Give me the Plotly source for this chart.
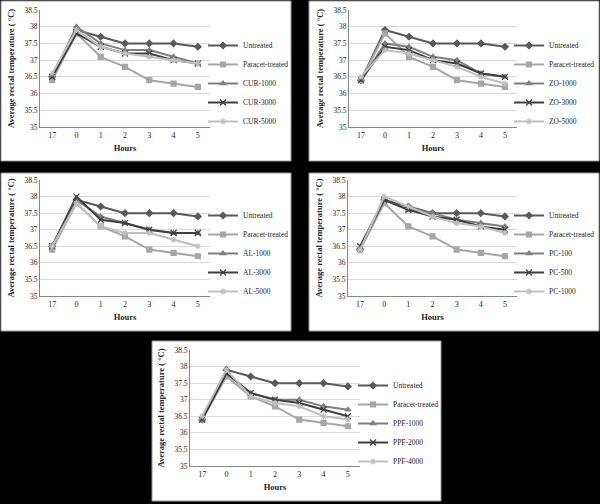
import plotly.graph_objects as go

W, H = 600, 504
hours = ["17", "0", "1", "2", "3", "4", "5"]

untreated_cur = [36.5, 37.9, 37.7, 37.5, 37.5, 37.5, 37.4]
paracet_cur = [36.4, 37.8, 37.1, 36.8, 36.4, 36.3, 36.2]
cur_1000 = [36.5, 38.0, 37.5, 37.3, 37.3, 37.1, 36.9]
cur_3000 = [36.5, 37.8, 37.4, 37.2, 37.2, 37.0, 36.9]
cur_5000 = [36.6, 37.9, 37.4, 37.2, 37.1, 37.0, 36.9]

untreated_zo = [36.4, 37.9, 37.7, 37.5, 37.5, 37.5, 37.4]
paracet_zo = [36.4, 37.8, 37.1, 36.8, 36.4, 36.3, 36.2]
zo_1000 = [36.4, 37.5, 37.4, 37.1, 37.0, 36.6, 36.5]
zo_3000 = [36.4, 37.4, 37.3, 37.0, 36.9, 36.6, 36.5]
zo_5000 = [36.5, 37.3, 37.2, 37.0, 36.8, 36.5, 36.3]

untreated_al = [36.5, 37.9, 37.7, 37.5, 37.5, 37.5, 37.4]
paracet_al = [36.4, 37.8, 37.1, 36.8, 36.4, 36.3, 36.2]
al_1000 = [36.5, 37.9, 37.4, 37.2, 37.0, 36.9, 36.9]
al_3000 = [36.5, 38.0, 37.3, 37.2, 37.0, 36.9, 36.9]
al_5000 = [36.5, 37.8, 37.1, 36.9, 36.9, 36.7, 36.5]

untreated_pc = [36.4, 37.9, 37.7, 37.5, 37.5, 37.5, 37.4]
paracet_pc = [36.4, 37.8, 37.1, 36.8, 36.4, 36.3, 36.2]
pc_100 = [36.4, 37.9, 37.6, 37.5, 37.3, 37.2, 37.1]
pc_500 = [36.5, 37.9, 37.6, 37.4, 37.3, 37.1, 37.0]
pc_1000 = [36.4, 38.0, 37.7, 37.4, 37.2, 37.1, 36.9]

untreated_ppf = [36.4, 37.9, 37.7, 37.5, 37.5, 37.5, 37.4]
paracet_ppf = [36.4, 37.7, 37.1, 36.8, 36.4, 36.3, 36.2]
ppf_1000 = [36.4, 37.8, 37.2, 37.0, 37.0, 36.8, 36.7]
ppf_2000 = [36.4, 37.8, 37.2, 37.0, 36.9, 36.7, 36.5]
ppf_4000 = [36.5, 37.9, 37.1, 36.9, 36.8, 36.5, 36.4]

panels = [
    (["Untreated", "Paracet-treated", "CUR-1000", "CUR-3000", "CUR-5000"],
     [untreated_cur, paracet_cur, cur_1000, cur_3000, cur_5000]),
    (["Untreated", "Paracet-treated", "ZO-1000", "ZO-3000", "ZO-5000"],
     [untreated_zo, paracet_zo, zo_1000, zo_3000, zo_5000]),
    (["Untreated", "Paracet-treated", "AL-1000", "AL-3000", "AL-5000"],
     [untreated_al, paracet_al, al_1000, al_3000, al_5000]),
    (["Untreated", "Paracet-treated", "PC-100", "PC-500", "PC-1000"],
     [untreated_pc, paracet_pc, pc_100, pc_500, pc_1000]),
    (["Untreated", "Paracet-treated", "PPF-1000", "PPF-2000", "PPF-4000"],
     [untreated_ppf, paracet_ppf, ppf_1000, ppf_2000, ppf_4000]),
]

colors = ["#595959", "#a6a6a6", "#7f7f7f", "#3f3f3f", "#bfbfbf"]
symbols = ["diamond", "square", "triangle-up", "x-thin", "asterisk"]

# layout geometry in pixels: (panel box x0,y0,x1,y1), (plot x0,y0,x1,y1), legend x,y
geo = [
    ((0, 0, 292, 162), (40, 10, 210, 127), (203, 31)),
    ((308, 0, 600, 162), (349, 10, 517, 127), (509, 31)),
    ((0, 172, 292, 332), (40, 180, 210, 296), (203, 201)),
    ((308, 172, 600, 332), (348, 180, 517, 296), (509, 201)),
    ((151, 340, 442, 502), (190, 350, 360, 466), (353, 371)),
]

FONT = "Liberation Serif"
TXT = "#262626"
fig = go.Figure()
layout = dict(
    width=W, height=H, margin=dict(l=0, r=0, t=0, b=0),
    paper_bgcolor="black", plot_bgcolor="white",
    font=dict(family=FONT, size=8, color=TXT),
    shapes=[],
)

for i, ((names, series), (box, plot, leg)) in enumerate(zip(panels, geo)):
    n = i + 1
    xa = "x" if n == 1 else f"x{n}"
    ya = "y" if n == 1 else f"y{n}"
    lg = "legend" if n == 1 else f"legend{n}"
    for j, (name, vals) in enumerate(zip(names, series)):
        fig.add_trace(go.Scatter(
            x=hours, y=vals, name=name, mode="lines+markers",
            line=dict(color=colors[j], width=2),
            marker=dict(symbol=symbols[j], size=5 if j != 3 else 6, color=colors[j],
                        line=dict(color=colors[j], width=1.2)),
            xaxis=xa, yaxis=ya, legend=lg,
        ))
    bx0, by0, bx1, by1 = box
    layout["shapes"].append(dict(
        type="rect", xref="paper", yref="paper", layer="below",
        x0=(bx0 + 1) / W, x1=(bx1 - 1) / W, y0=1 - (by1 - 1) / H, y1=1 - (by0 + 1) / H,
        fillcolor="white", line=dict(color="#9a9a9a", width=1),
    ))
    px0, py0, px1, py1 = plot
    layout[("xaxis" if n == 1 else f"xaxis{n}")] = dict(
        domain=[px0 / W, px1 / W], anchor=ya, type="category",
        range=[-0.5, 6.5], showgrid=False, showline=True, linecolor="#868686",
        ticks="", tickfont=dict(size=8, family=FONT, color=TXT), zeroline=False,
        title=dict(text="<b>Hours</b>", font=dict(size=8.5, family=FONT, color=TXT), standoff=6),
        automargin=False,
    )
    layout[("yaxis" if n == 1 else f"yaxis{n}")] = dict(
        domain=[1 - py1 / H, 1 - py0 / H], anchor=xa,
        range=[35, 38.5], dtick=0.5, tick0=35, showgrid=True, gridcolor="#d9d9d9",
        showline=True, linecolor="#868686", zeroline=False, ticks="",
        tickfont=dict(size=7.5, family=FONT, color=TXT),
        title=dict(text="<b>Average rectal temperature ( °C)</b>",
                   font=dict(size=8.5, family=FONT, color=TXT), standoff=8),
        automargin=False,
    )
    lx, ly = leg
    layout[lg] = dict(
        x=lx / W, y=1 - ly / H, xanchor="left", yanchor="top",
        bgcolor="rgba(0,0,0,0)", font=dict(size=7.5, family=FONT, color=TXT),
        itemwidth=30, tracegroupgap=0,
    )

fig.update_layout(**layout)
fig.write_html(
    "out.html",
    config={"displayModeBar": False},
    post_script="document.body.style.margin='0';document.body.style.overflow='hidden';",
)
